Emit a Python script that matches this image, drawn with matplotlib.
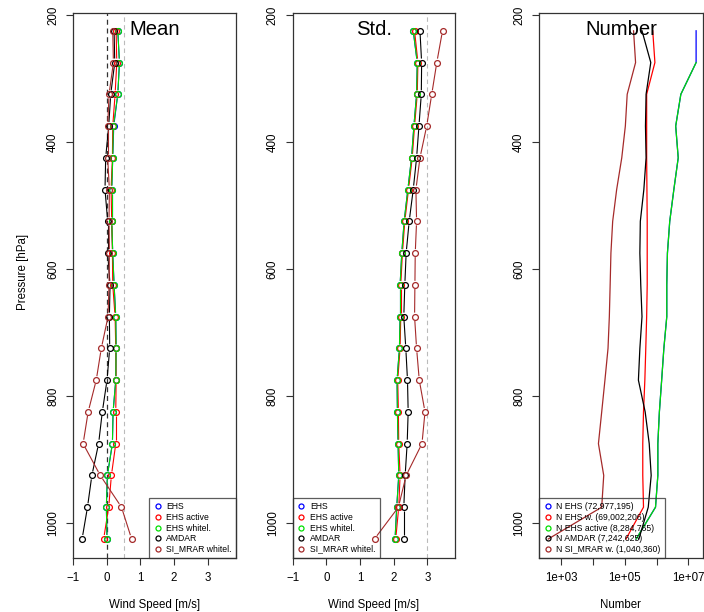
import matplotlib
matplotlib.use("Agg")
import matplotlib.pyplot as plt
import numpy as np
from matplotlib.collections import LineCollection
from matplotlib.lines import Line2D

plt.rcParams["font.family"] = ["Liberation Sans", "DejaVu Sans"]

BLUE = "#0000FF"; RED = "#FF0000"; GREEN = "#00E000"; BLACK = "#000000"; BROWN = "#A52A2A"
EDGE = "#333333"

# pressure levels [hPa]
levels = [225, 275, 325, 375, 425, 475, 525, 575, 625, 675, 725, 775, 825, 875, 925, 975, 1025]

# mean wind speed difference [m/s]
mean_ehs = [0.33, 0.38, 0.33, 0.21, 0.18, 0.15, 0.15, 0.18, 0.22, 0.27, 0.28, 0.27, 0.19, 0.17, 0.02, -0.01, 0.01]
mean_act = [0.28, 0.30, 0.25, 0.18, 0.17, 0.13, 0.15, 0.17, 0.18, 0.25, 0.27, 0.28, 0.27, 0.27, 0.14, 0.06, -0.09]
mean_wht = [0.33, 0.38, 0.33, 0.20, 0.18, 0.15, 0.15, 0.18, 0.22, 0.27, 0.28, 0.27, 0.19, 0.17, 0.02, -0.01, 0.01]
mean_amd = [0.22, 0.24, 0.12, 0.06, -0.03, -0.05, 0.03, 0.03, 0.10, 0.08, 0.09, 0.01, -0.13, -0.24, -0.44, -0.57, -0.73]
mean_mrar = [0.18, 0.20, 0.07, 0.03, 0.03, 0.08, 0.07, 0.08, 0.07, 0.04, -0.16, -0.31, -0.55, -0.70, -0.19, 0.44, 0.74]

# standard deviation [m/s]
std_ehs = [2.58, 2.70, 2.68, 2.60, 2.53, 2.42, 2.31, 2.24, 2.19, 2.19, 2.17, 2.10, 2.11, 2.13, 2.15, 2.09, 2.04]
std_act = [2.62, 2.72, 2.70, 2.62, 2.55, 2.44, 2.33, 2.26, 2.21, 2.21, 2.19, 2.12, 2.14, 2.15, 2.19, 2.15, 2.06]
std_wht = [2.58, 2.70, 2.68, 2.60, 2.53, 2.42, 2.31, 2.24, 2.19, 2.19, 2.17, 2.10, 2.11, 2.13, 2.15, 2.09, 2.04]
std_amd = [2.78, 2.83, 2.82, 2.75, 2.68, 2.58, 2.46, 2.37, 2.33, 2.30, 2.36, 2.41, 2.43, 2.40, 2.34, 2.30, 2.30]
std_mrar = [3.45, 3.28, 3.13, 2.98, 2.78, 2.66, 2.68, 2.64, 2.63, 2.62, 2.68, 2.76, 2.93, 2.84, 2.37, 2.14, 1.43]

# number of observations per level
n_ehs = [1.75e7, 1.75e7, 5.8e6, 4.0e6, 4.8e6, 3.5e6, 2.6e6, 2.2e6, 2.1e6, 2.1e6, 1.7e6, 1.45e6, 1.23e6, 1.1e6, 1.1e6, 9.3e5, 2.3e5]
n_ehs_w = [7.6e5, 8.9e5, 4.9e5, 4.9e5, 4.9e5, 5.0e5, 5.1e5, 5.1e5, 5.1e5, 4.9e5, 4.6e5, 4.3e5, 3.9e5, 3.7e5, 3.7e5, 3.9e5, 1.1e5]
n_ehs_act = [np.nan, 1.75e7, 5.8e6, 4.0e6, 4.8e6, 3.5e6, 2.6e6, 2.2e6, 2.1e6, 2.1e6, 1.7e6, 1.45e6, 1.23e6, 1.1e6, 1.1e6, 9.3e5, 2.3e5]
n_amd = [3.5e5, 6.6e5, 4.7e5, 4.5e5, 4.7e5, 4.0e5, 3.1e5, 3.0e5, 3.2e5, 3.5e5, 3.0e5, 2.7e5, 4.4e5, 5.9e5, 6.8e5, 5.5e5, 2.8e5]
n_mrar = [1.9e5, 2.2e5, 1.2e5, 1.05e5, 8.1e4, 5.6e4, 4.2e4, 3.7e4, 3.5e4, 3.3e4, 3.0e4, 2.4e4, 1.9e4, 1.5e4, 2.2e4, 1.9e4, 4.0e2]

series_labels = ["EHS", "EHS active", "EHS whitel.", "AMDAR", "SI_MRAR whitel."]
number_labels = ["N EHS (72,977,195)", "N EHS w. (69,002,206)", "N EHS active (8,284,765)",
                 "N AMDAR (7,242,625)", "N SI_MRAR w. (1,040,360)"]
colors = [BLUE, RED, GREEN, BLACK, BROWN]

W, H = 704, 612
fig = plt.figure(figsize=(W / 100, H / 100), dpi=100)
fig.patch.set_facecolor("white")


def axes_at(left, right, top=13, bottom=558):
    return fig.add_axes([left / W, 1 - bottom / H, (right - left) / W, (bottom - top) / H])


def style(ax):
    for s in ax.spines.values():
        s.set_color(EDGE); s.set_linewidth(0.9)
    ax.tick_params(length=5, width=0.8, color=EDGE, labelsize=8.3, pad=5)
    ax.set_ylim(1055, 197)
    ax.set_yticks([200, 400, 600, 800, 1000])
    for lab in ax.get_yticklabels():
        lab.set_rotation(90); lab.set_va("center")


def gapped(ax, x, y, color, gap=4.0):
    pts = ax.transData.transform(np.column_stack([x, y]))
    inv = ax.transData.inverted()
    segs = []
    for a, b in zip(pts[:-1], pts[1:]):
        d = b - a
        L = np.hypot(*d)
        if L <= 2 * gap:
            continue
        u = d / L
        segs.append(inv.transform(np.array([a + u * gap, b - u * gap])))
    ax.add_collection(LineCollection(segs, colors=color, linewidths=0.8))
    ax.plot(x, y, "o", ls="none", mfc="none", mec=color, ms=4.2, mew=0.9)


def legend(ax, labels, loc):
    handles = [Line2D([], [], ls="none", marker="o", mfc="none", mec=c, ms=3.6, mew=0.9) for c in colors]
    lg = ax.legend(handles, labels, loc=loc, borderaxespad=0, fontsize=6.2, frameon=True,
                   fancybox=False, handlelength=1.0, handletextpad=0.5, labelspacing=0.18,
                   borderpad=0.5)
    lg.get_frame().set_edgecolor(EDGE)
    lg.get_frame().set_linewidth(0.9)
    lg.get_frame().set_facecolor("none")


def title(ax, txt):
    ax.text(0.5, 0.9706, txt, transform=ax.transAxes, ha="center", va="center", fontsize=14.6)


# Mean
ax1 = axes_at(73, 236)
style(ax1)
ax1.set_xlim(-1, 3.84)
ax1.set_xticks([-1, 0, 1, 2, 3])
ax1.axvline(0, color="#333333", lw=0.9, ls=(0, (4, 3)))
ax1.axvline(0.5, color="#BBBBBB", lw=0.8, ls=(0, (4, 3)))
for vals, c in zip([mean_ehs, mean_act, mean_wht, mean_amd, mean_mrar], colors):
    gapped(ax1, vals, levels, c)
title(ax1, "Mean")
legend(ax1, series_labels, "lower right")

# Std.
ax2 = axes_at(292.7, 455.3)
style(ax2)
ax2.set_xlim(-1, 3.83)
ax2.set_xticks([-1, 0, 1, 2, 3])
ax2.axvline(3, color="#BBBBBB", lw=0.8, ls=(0, (4, 3)))
for vals, c in zip([std_ehs, std_act, std_wht, std_amd, std_mrar], colors):
    gapped(ax2, vals, levels, c)
title(ax2, "Std.")
legend(ax2, series_labels, "lower left")

# Number
ax3 = axes_at(539, 702.7)
style(ax3)
ax3.set_xscale("log")
ax3.set_xlim(10 ** 2.31, 10 ** 7.45)
ax3.set_xticks([1e3, 1e4, 1e5, 1e6, 1e7])
ax3.set_xticklabels(["1e+03", "", "1e+05", "", "1e+07"])
ax3.minorticks_off()
for vals, c in zip([n_ehs, n_ehs_w, n_ehs_act, n_amd, n_mrar], colors):
    ax3.plot(vals, levels, color=c, lw=0.9)
title(ax3, "Number")
legend(ax3, number_labels, "lower left")

for ax, lab in [(ax1, "Wind Speed [m/s]"), (ax2, "Wind Speed [m/s]"), (ax3, "Number")]:
    bb = ax.get_position()
    fig.text(bb.x0 + bb.width / 2, 1 - 605 / H, lab, ha="center", va="center", fontsize=8.3)
fig.text(23 / W, 1 - 272 / H, "Pressure [hPa]", rotation=90, ha="center", va="center", fontsize=8.3)

fig.savefig("out.png", dpi=100, facecolor="white")
